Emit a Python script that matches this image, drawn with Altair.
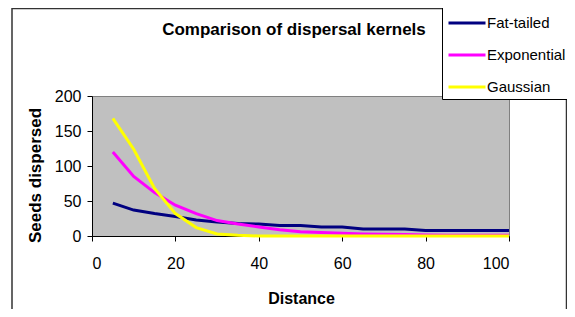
import altair as alt
import pandas as pd

distance = [5, 10, 15, 20, 25, 30, 35, 40, 45, 50, 55, 60, 65, 70, 75, 80, 85, 90, 95, 100]
fat_tailed = [47, 37, 32, 28, 23, 20, 18, 17, 15, 15, 13, 13, 10, 10, 10, 8, 8, 8, 8, 8]
exponential = [120, 85, 62, 44, 32, 22, 17, 13, 9, 6, 5, 4, 3, 2.5, 2, 1.5, 1, 1, 1, 1]
gaussian = [168, 124, 68, 32, 12, 3, 1, 0, 0, 0, 0, 0, 0, 0, 0, 0, 0, 0, 0, 0]

series_names = ["Fat-tailed", "Exponential", "Gaussian"]
series_colors = ["#000080", "#FF00FF", "#FFFF00"]
chart_title = "Comparison of dispersal kernels"

rows = []
for name, vals in zip(series_names, [fat_tailed, exponential, gaussian]):
    for d, v in zip(distance, vals):
        rows.append({"Distance": d, "Seeds": v, "Kernel": name})
df = pd.DataFrame(rows)

FONT = "Liberation Sans"

lines = alt.Chart(df).mark_line(strokeWidth=3).encode(
    x=alt.X("Distance:Q",
            scale=alt.Scale(domain=[0, 100], nice=False),
            axis=alt.Axis(values=[0, 20, 40, 60, 80, 100], grid=False,
                          domainColor="black", tickColor="black", tickSize=5,
                          labelFontSize=16, labelFont=FONT, labelColor="black",
                          labelPadding=14, title="Distance", titleFont=FONT,
                          titleFontSize=16, titleFontWeight="bold", titleColor="black",
                          titleX=209, titleY=62, titleBaseline="middle")),
    y=alt.Y("Seeds:Q",
            scale=alt.Scale(domain=[0, 200], nice=False),
            axis=alt.Axis(values=[0, 50, 100, 150, 200], grid=False,
                          domainColor="black", tickColor="black", tickSize=5,
                          labelFontSize=16, labelFont=FONT, labelColor="black",
                          labelPadding=6, title="Seeds dispersed", titleFont=FONT,
                          titleFontSize=17, titleFontWeight="bold", titleColor="black",
                          titleX=-57, titleY=79, titleAngle=270,
                          titleBaseline="middle", titleAlign="center")),
    color=alt.Color("Kernel:N",
                    scale=alt.Scale(domain=series_names, range=series_colors),
                    legend=alt.Legend(orient="none", legendX=350, legendY=-97,
                                      title=None, symbolType="stroke",
                                      symbolSize=1369, symbolStrokeWidth=3,
                                      symbolOffset=1,
                                      labelFontSize=15, labelFont=FONT,
                                      labelColor="black", labelOffset=0,
                                      strokeColor="black", fillColor="white",
                                      padding=4, rowPadding=4)),
)

border = alt.Chart(alt.Data(values=[{}])).mark_rect(
    filled=False, stroke="#333333", strokeWidth=1.5
).encode(
    x=alt.value(-80), x2=alt.value(474.5),
    y=alt.value(-87.5), y2=alt.value(300),
)

title = alt.Chart(alt.Data(values=[{"t": chart_title}])).mark_text(
    font=FONT, fontSize=17, fontWeight="bold", color="black",
    align="center", baseline="middle"
).encode(
    text="t:N", x=alt.value(202), y=alt.value(-66),
)

chart = alt.layer(border, lines, title).properties(
    width=417, height=140,
    autosize=alt.AutoSizeParams(type="none"),
    padding={"left": 84, "top": 88, "right": 58, "bottom": 73},
).configure_view(fill="#C0C0C0", stroke="#808080")

chart.save("out.html", embed_options={"renderer": "svg", "actions": False})
